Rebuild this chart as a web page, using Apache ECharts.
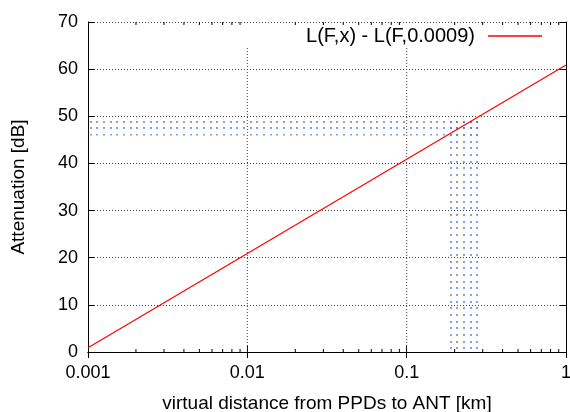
<!DOCTYPE html>
<html><head><meta charset="utf-8">
<script src="https://cdn.jsdelivr.net/npm/echarts@6/dist/echarts.min.js"></script>
<style>html,body{margin:0;padding:0;background:#fff}#c{width:570px;height:412px}</style>
</head><body><div id="c"></div>
<script>
// ---- data ----
const lineX = [0.001, 0.01, 0.1, 1];
const lineY = [0.9, 20.9, 40.9, 60.9];
const seriesName = 'L(F,x) - L(F,0.0009)';
const xTickLabels = ['0.001', '0.01', '0.1', '1'];
const yTicks = [0, 10, 20, 30, 40, 50, 60, 70];
const xMajorGrid = [0.01, 0.1];
const xMinorTicks = [0.002,0.003,0.004,0.005,0.006,0.007,0.008,0.009,
                     0.02,0.03,0.04,0.05,0.06,0.07,0.08,0.09,
                     0.2,0.3,0.4,0.5,0.6,0.7,0.8,0.9];
const hBandX = [0.001, 0.3];
const hBandY = [45.9, 50];
const vBandX = [0.18, 0.3];
const vBandY = [0, 50];

const FONT = 'Liberation Sans, Arial, sans-serif';

// dotted fill pattern
const pc = document.createElement('canvas');
pc.width = 20; pc.height = 20;
const g = pc.getContext('2d');
[3, 10, 16].forEach(cx => [1, 7, 14].forEach(cy => {
  g.fillStyle = 'rgba(85,120,205,0.7)';
  g.fillRect(cx, cy, 2, 2);
}));
const pattern = { image: pc, repeat: 'repeat' };

const chart = echarts.init(document.getElementById('c'), null, { renderer: 'canvas' });

const axisCommon = {
  axisLine: { show: true, lineStyle: { color: '#000', width: 1 } },
  axisTick: { show: true, inside: true, length: 6, lineStyle: { color: '#000' } },
  axisLabel: { color: '#000', fontSize: 18, fontFamily: FONT },
  splitLine: { show: false }
};

chart.setOption({
  animation: false,
  backgroundColor: '#fff',
  grid: { left: 88, right: 4, top: 22, bottom: 60, containLabel: false, outerBoundsMode: 'none' },
  legend: {
    show: true, right: 28, top: 26, padding: 0, align: 'right',
    itemWidth: 54, itemHeight: 10,
    textStyle: { fontSize: 20, fontFamily: FONT, color: '#000', padding: [0, 8, 0, 0] },
    data: [{ name: seriesName, icon: 'path://M0,0 L54,0 L54,1.3 L0,1.3 Z' }]
  },
  xAxis: [
    Object.assign({}, axisCommon, {
      type: 'log', logBase: 10, min: 0.001, max: 1, position: 'bottom',
      axisLabel: Object.assign({}, axisCommon.axisLabel, { margin: 12,
        formatter: v => xTickLabels[Math.round(Math.log10(v)) + 3] }),
      name: 'virtual distance from PPDs to ANT [km]', nameLocation: 'middle', nameGap: 42,
      nameTextStyle: { fontSize: 19, fontFamily: FONT, color: '#000' }
    }),
    Object.assign({}, axisCommon, {
      type: 'log', logBase: 10, min: 0.001, max: 1, position: 'top',
      axisLabel: { show: false }
    })
  ],
  yAxis: [
    Object.assign({}, axisCommon, {
      type: 'value', min: yTicks[0], max: yTicks[yTicks.length - 1], interval: 10, position: 'left',
      axisLabel: Object.assign({}, axisCommon.axisLabel, { margin: 10 }),
      splitLine: { show: true, lineStyle: { color: '#444', width: 1, type: [1, 2] } },
      name: 'Attenuation [dB]', nameLocation: 'middle', nameGap: 60,
      nameTextStyle: { fontSize: 19, fontFamily: FONT, color: '#000' }
    }),
    Object.assign({}, axisCommon, {
      type: 'value', min: yTicks[0], max: yTicks[yTicks.length - 1], interval: 10, position: 'right',
      axisLabel: { show: false }
    })
  ],
  series: [
    {
      type: 'custom', xAxisIndex: 0, yAxisIndex: 0, silent: true, z: 1,
      data: xMajorGrid.map(v => [v]),
      renderItem: (params, api) => {
        const b = api.coord([api.value(0), 0]);
        const t = api.coord([api.value(0), 70]);
        return { type: 'line', shape: { x1: b[0], y1: b[1], x2: t[0], y2: t[1] + 25 },
          style: { stroke: '#444', lineWidth: 1, lineDash: [1, 2] } };
      }
    },
    {
      type: 'custom', xAxisIndex: 0, yAxisIndex: 0, silent: true, z: 3,
      data: xMinorTicks.map(v => [v]),
      renderItem: (params, api) => {
        const b = api.coord([api.value(0), 0]);
        const t = api.coord([api.value(0), 70]);
        return { type: 'group', children: [
          { type: 'line', shape: { x1: b[0], y1: b[1], x2: b[0], y2: b[1] - 3 }, style: { stroke: '#000', lineWidth: 1 } },
          { type: 'line', shape: { x1: t[0], y1: t[1], x2: t[0], y2: t[1] + 3 }, style: { stroke: '#000', lineWidth: 1 } }
        ] };
      }
    },
    {
      name: seriesName, type: 'line', xAxisIndex: 0, yAxisIndex: 0, z: 4,
      data: lineX.map((x, i) => [x, lineY[i]]),
      showSymbol: false, symbol: 'none',
      lineStyle: { color: '#ff0000', width: 1.2 },
      itemStyle: { color: '#ff0000' },
      markArea: {
        silent: true,
        itemStyle: { color: pattern, borderWidth: 0, opacity: 1 },
        data: [
          [{ coord: [hBandX[0], hBandY[0]] }, { coord: [hBandX[1], hBandY[1]] }],
          [{ coord: [vBandX[0], vBandY[0]] }, { coord: [vBandX[1], vBandY[1]] }]
        ]
      }
    }
  ]
});
</script>
</body></html>
